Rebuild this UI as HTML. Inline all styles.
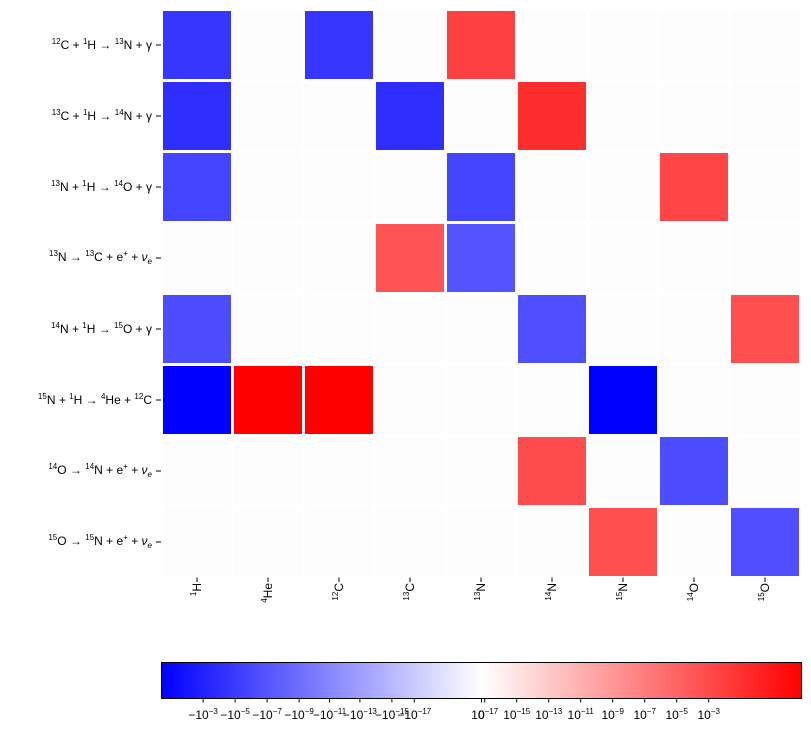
<!DOCTYPE html>
<html><head><meta charset="utf-8"><style>
body{margin:0;background:#fff;font-family:"Liberation Sans",sans-serif;}
#wrap{position:relative;width:811px;height:736px;overflow:hidden}
.yl{position:absolute;right:659px;font-size:12px;white-space:nowrap;transform:translateY(-50%)}
.xl{position:absolute;top:583px;font-size:12px;white-space:nowrap;transform-origin:left top;}
sup{font-size:8px;vertical-align:5px;line-height:0}
.cl{position:absolute;top:708px;font-size:12px;white-space:nowrap;transform:translateX(-50%)}
</style></head><body><div id="wrap">
<svg id="svg" width="811" height="736" style="position:absolute;left:0;top:0"></svg>
</div>
<script>
const reactions=['<sup>12</sup>C + <sup>1</sup>H → <sup>13</sup>N + γ','<sup>13</sup>C + <sup>1</sup>H → <sup>14</sup>N + γ','<sup>13</sup>N + <sup>1</sup>H → <sup>14</sup>O + γ','<sup>13</sup>N → <sup>13</sup>C + e<sup>+</sup> + <i>ν<sub style="font-size:8px">e</sub></i>','<sup>14</sup>N + <sup>1</sup>H → <sup>15</sup>O + γ','<sup>15</sup>N + <sup>1</sup>H → <sup>4</sup>He + <sup>12</sup>C','<sup>14</sup>O → <sup>14</sup>N + e<sup>+</sup> + <i>ν<sub style="font-size:8px">e</sub></i>','<sup>15</sup>O → <sup>15</sup>N + e<sup>+</sup> + <i>ν<sub style="font-size:8px">e</sub></i>'];
const species=['<sup>1</sup>H','<sup>4</sup>He','<sup>12</sup>C','<sup>13</sup>C','<sup>13</sup>N','<sup>14</sup>N','<sup>15</sup>N','<sup>14</sup>O','<sup>15</sup>O'];
const values=[
[-0.79,0,-0.79,0,0.75,0,0,0,0],
[-0.82,0,0,-0.82,0,0.82,0,0,0],
[-0.73,0,0,0,-0.73,0,0,0.73,0],
[0,0,0,0.67,-0.67,0,0,0,0],
[-0.7,0,0,0,0,-0.69,0,0,0.69],
[-1,1,1,0,0,0,-1,0,0],
[0,0,0,0,0,0.7,0,-0.7,0],
[0,0,0,0,0,0,0.69,0,-0.69]];
const cbTicks=['−10<sup>−3</sup>','−10<sup>−5</sup>','−10<sup>−7</sup>','−10<sup>−9</sup>','−10<sup>−11</sup>','−10<sup>−13</sup>','−10<sup>−15</sup>','−10<sup>−17</sup>','0','10<sup>−17</sup>','10<sup>−15</sup>','10<sup>−13</sup>','10<sup>−11</sup>','10<sup>−9</sup>','10<sup>−7</sup>','10<sup>−5</sup>','10<sup>−3</sup>'];
const cbPos=[-0.87,-0.77,-0.67,-0.57,-0.475,-0.38,-0.28,-0.21,0,0.01,0.11,0.21,0.31,0.41,0.51,0.61,0.71];
const X0=161.5,Y0=9.5,P=71;
const xs=i=>X0+i*P, ys=j=>Y0+j*P;
function col(t){if(t===0)return '#fdfdfd';let r,g,b;if(t<0){r=g=Math.round(255*(1+t));b=255;}else{r=255;g=b=Math.round(255*(1-t));}return `rgb(${r},${g},${b})`;}
const svg=document.getElementById('svg'),wrap=document.getElementById('wrap'),NS='http://www.w3.org/2000/svg';
function mk(t,a){const e=document.createElementNS(NS,t);for(const k in a)e.setAttribute(k,a[k]);svg.appendChild(e);return e;}
values.forEach((row,j)=>row.forEach((v,i)=>{
 const r=mk('rect',{x:xs(i)+1.5,y:ys(j)+1.5,width:P-3,height:P-3,fill:col(v)});
 
 
}));
reactions.forEach((s,j)=>{
 const l=mk('line',{x1:156,x2:161,y1:ys(j)+P/2,y2:ys(j)+P/2,stroke:'#000'});
 
 
 const d=document.createElement('div');d.className='yl';d.innerHTML=s;d.style.top=(ys(j)+P/2)+'px';
 
 
 wrap.appendChild(d);
});
species.forEach((s,i)=>{
 const l=mk('line',{x1:xs(i)+P/2,x2:xs(i)+P/2,y1:577.5,y2:582,stroke:'#000'});
 
 
 const d=document.createElement('div');d.className='xl';d.innerHTML=s;
 d.style.left=(xs(i)+P/2-7)+'px';d.style.transform='rotate(-90deg) translateX(-100%)';
 
 
 wrap.appendChild(d);
});
// colorbar
const CX0=161.5,CX1=801.5,CY0=662.5,CY1=698.5,cbx=t=>(CX0+CX1)/2+t*(CX1-CX0)/2;
const defs=mk('defs',{});const lg=document.createElementNS(NS,'linearGradient');lg.setAttribute('id','g');defs.appendChild(lg);
[['0','#0000ff'],['0.5','#ffffff'],['1','#ff0000']].forEach(([o,c])=>{const s=document.createElementNS(NS,'stop');s.setAttribute('offset',o);s.setAttribute('stop-color',c);lg.appendChild(s);});
const cb=mk('rect',{x:CX0,y:CY0,width:CX1-CX0,height:CY1-CY0,fill:'url(#g)',stroke:'#000','stroke-width':1});


cbTicks.forEach((s,k)=>{
 const x=cbx(cbPos[k]);
 const l=mk('line',{x1:x,x2:x,y1:CY1,y2:CY1+4,stroke:'#000'});
 
 
 const d=document.createElement('div');d.className='cl';d.innerHTML=s;d.style.left=x+'px';
 
 
 wrap.appendChild(d);
});
</script></body></html>
